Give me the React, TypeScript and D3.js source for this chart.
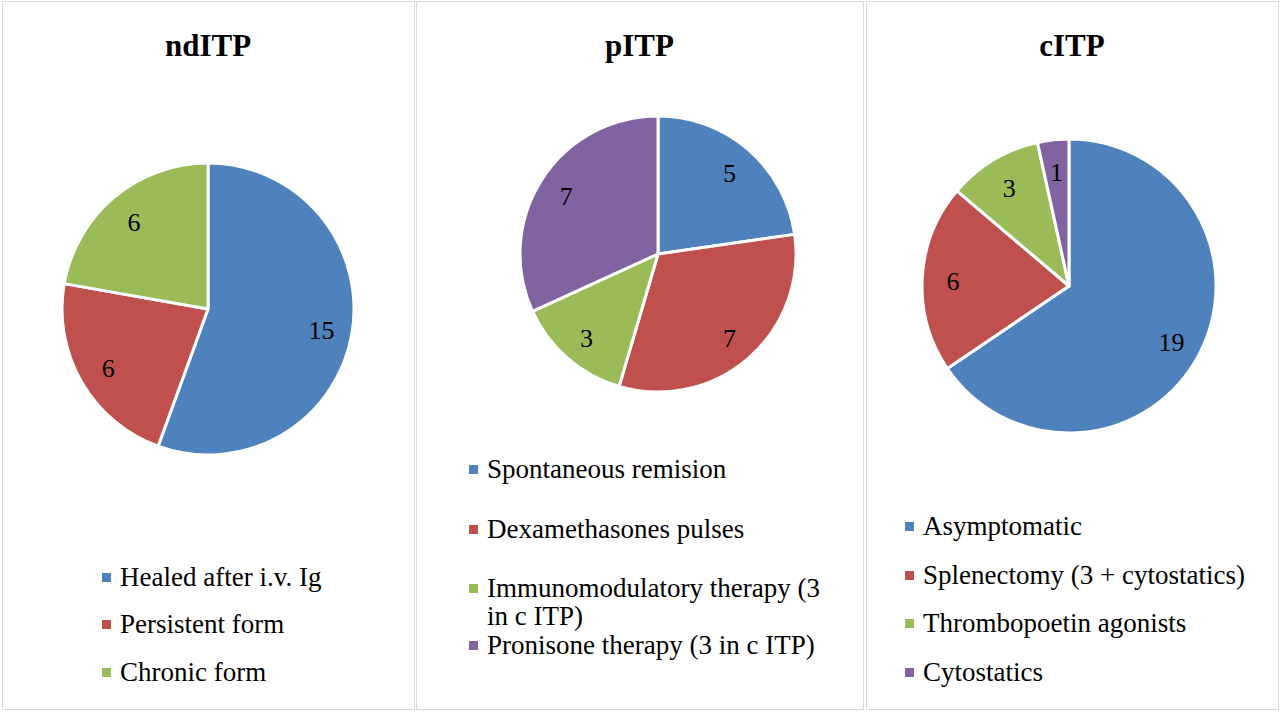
import React from "react";
import * as d3 from "d3";

// ── Data ──────────────────────────────────────────────────────────────────────

const ND_LABELS = ["Healed after i.v. Ig", "Persistent form", "Chronic form"];
const ND_VALUES = [15, 6, 6];

const P_LABELS = [
  "Spontaneous remision",
  "Dexamethasones pulses",
  "Immunomodulatory therapy (3 in c ITP)",
  "Pronisone therapy (3 in c ITP)",
];
const P_VALUES = [5, 7, 3, 7];

const C_LABELS = [
  "Asymptomatic",
  "Splenectomy (3 + cytostatics)",
  "Thrombopoetin agonists",
  "Cytostatics",
];
const C_VALUES = [19, 6, 3, 1];

const COLORS = ["#4F81BD", "#C0504D", "#9BBB59", "#8064A2"];

// ── Layout ────────────────────────────────────────────────────────────────────

const W = 1280;
const H = 713;
const FONT = "'Liberation Serif', 'Times New Roman', serif";

interface PanelSpec {
  title: string;
  labels: string[];
  values: number[];
  x0: number;
  x1: number;
  cx: number;
  cy: number;
  r: number;
  legendX: number;
  legendRows: number[]; // baseline of first line per entry
}

const PANELS: PanelSpec[] = [
  {
    title: "ndITP",
    labels: ND_LABELS,
    values: ND_VALUES,
    x0: 2,
    x1: 414,
    cx: 208,
    cy: 309,
    r: 146,
    legendX: 102,
    legendRows: [586, 633, 681],
  },
  {
    title: "pITP",
    labels: P_LABELS,
    values: P_VALUES,
    x0: 416,
    x1: 863,
    cx: 658,
    cy: 254,
    r: 138,
    legendX: 469,
    legendRows: [478, 538, 597, 654],
  },
  {
    title: "cITP",
    labels: C_LABELS,
    values: C_VALUES,
    x0: 866,
    x1: 1278,
    cx: 1069,
    cy: 286,
    r: 147,
    legendX: 905,
    legendRows: [535, 584, 632, 681],
  },
];

// ── Helpers ───────────────────────────────────────────────────────────────────

// long legend entries wrap like Excel does (only the ones that overflow)
function wrapLabel(text: string, wrapOver = 32, lineMax = 28): string[] {
  if (text.length <= wrapOver) return [text];
  const lines: string[] = [];
  let cur = "";
  text.split(" ").forEach((w) => {
    const next = cur ? `${cur} ${w}` : w;
    if (next.length > lineMax && cur) {
      lines.push(cur);
      cur = w;
    } else {
      cur = next;
    }
  });
  if (cur) lines.push(cur);
  return lines;
}

// ── Panel ─────────────────────────────────────────────────────────────────────

function Panel({ spec }: { spec: PanelSpec }) {
  const pie = d3
    .pie<number>()
    .sort(null)
    .value((d) => d);
  const arcs = pie(spec.values);
  const arc = d3
    .arc<d3.PieArcDatum<number>>()
    .innerRadius(0)
    .outerRadius(spec.r);
  const labelArc = d3
    .arc<d3.PieArcDatum<number>>()
    .innerRadius(spec.r * 0.79)
    .outerRadius(spec.r * 0.79);

  return (
    <g>
      <rect
        x={spec.x0 + 0.5}
        y={1.5}
        width={spec.x1 - spec.x0}
        height={708}
        fill="#fff"
        stroke="#d9d9d9"
        strokeWidth={1}
      />
      <text
        x={(spec.x0 + spec.x1) / 2}
        y={56}
        textAnchor="middle"
        fontSize={31}
        fontWeight="bold"
        fill="#000"
      >
        {spec.title}
      </text>

      <g transform={`translate(${spec.cx},${spec.cy})`}>
        {arcs.map((a, i) => (
          <path
            key={i}
            d={arc(a) ?? ""}
            fill={COLORS[i]}
            stroke="#fff"
            strokeWidth={3}
            strokeLinejoin="round"
          />
        ))}
        {arcs.map((a, i) => {
          const [lx, ly] = labelArc.centroid(a);
          return (
            <text
              key={i}
              x={lx}
              y={ly}
              dy="0.4em"
              textAnchor="middle"
              fontSize={26}
              fill="#000"
            >
              {a.data}
            </text>
          );
        })}
      </g>

      {spec.labels.map((label, i) => {
        const lines = wrapLabel(label);
        const y = spec.legendRows[i];
        return (
          <g key={label}>
            <rect
              x={spec.legendX}
              y={y - 13}
              width={9}
              height={9}
              fill={COLORS[i]}
            />
            <text x={spec.legendX + 18} y={y} fontSize={27} fill="#000">
              {lines.map((ln, j) => (
                <tspan key={j} x={spec.legendX + 18} dy={j === 0 ? 0 : 28}>
                  {ln}
                </tspan>
              ))}
            </text>
          </g>
        );
      })}
    </g>
  );
}

// ── App ───────────────────────────────────────────────────────────────────────

export default function App() {
  return (
    <svg
      width={W}
      height={H}
      viewBox={`0 0 ${W} ${H}`}
      style={{ position: "absolute", left: 0, top: 0, background: "#fff" }}
      fontFamily={FONT}
    >
      <rect width={W} height={H} fill="#fff" />
      {PANELS.map((p) => (
        <Panel key={p.title} spec={p} />
      ))}
    </svg>
  );
}
